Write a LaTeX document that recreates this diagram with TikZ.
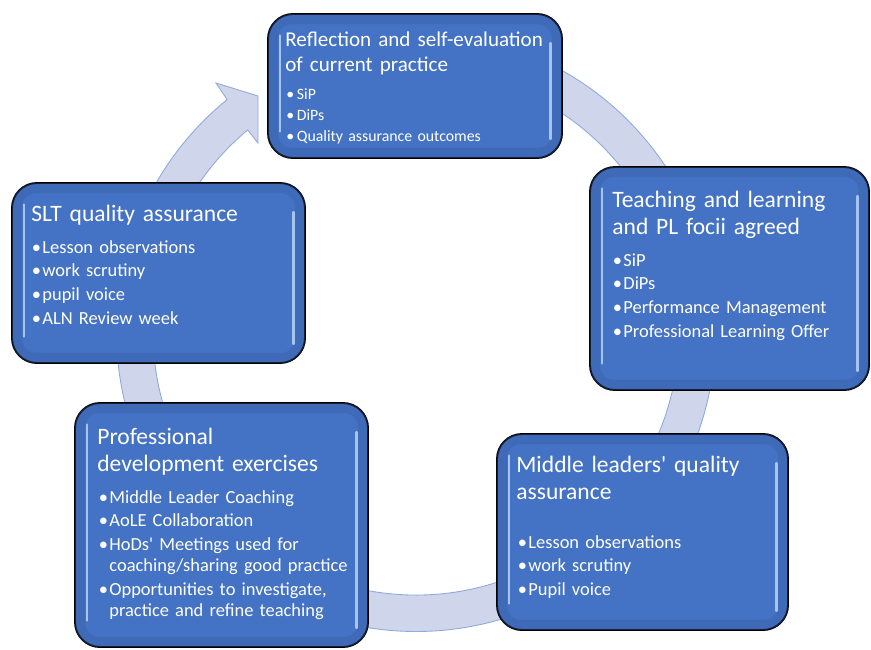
\documentclass[tikz,border=0pt]{standalone}
\usepackage{fontspec}
\setmainfont{Carlito}
\usepackage{tikz}
\usetikzlibrary{positioning}

\definecolor{boxblue}{RGB}{68,114,196}
\definecolor{ringfill}{RGB}{207,213,234}
\definecolor{ringedge}{RGB}{143,170,220}
\definecolor{glintblue}{RGB}{178,206,245}

% bullet items with a hanging indent
\newlength{\bulletindent}
\setlength{\bulletindent}{6pt}
\newcommand{\itm}[1]{\hangindent=\bulletindent\hangafter=1\makebox[\bulletindent][l]{\textbullet}#1\par}

% light edges on the left and right of a box
\newcommand{\boxgloss}[1]{%
  \draw[rim] ([shift={(0.12,-0.12)}]#1.north west) rectangle ([shift={(-0.12,0.12)}]#1.south east);
  \draw[shine] ([shift={(0.26,-0.45)}]#1.north west) -- ([shift={(0.26,0.55)}]#1.south west);
  \draw[shine] ([shift={(-0.25,-0.6)}]#1.north east) -- ([shift={(-0.25,0.4)}]#1.south east);}

\tikzset{
  ring/.style={fill=ringfill, draw=ringedge, line width=0.5pt},
  stage/.style={draw=black, line width=1.1pt, fill=boxblue, rounded corners=0.5cm, inner sep=0pt},
  rim/.style={draw=boxblue!82!black, line width=0.2cm, opacity=0.35, rounded corners=0.38cm},
  shine/.style={draw=glintblue, line width=1.3pt, line cap=round, opacity=0.9},
  headline/.style={text=white, anchor=base west, inner sep=0pt, text width=6cm, align=left, font=\fontsize{13.4}{15.4}\selectfont},
  points/.style={text=white, anchor=base west, inner sep=0pt, text width=6cm, align=left, font=\fontsize{10.5}{11.95}\selectfont, execute at begin node={\setlength{\parskip}{#1}}},
  points/.default=1.7pt,
}

\begin{document}
\begin{tikzpicture}
		\useasboundingbox (0,0) rectangle (17.42,12.98);
		
		% circular arrow behind the boxes
		\coordinate (hub) at (8.32,6.34);
		\filldraw[ring] ([shift={(hub)}]129.1:5.99) arc[start angle=129.1, end angle=474.5, radius=5.99]
		-- ([shift={(hub)}]474.5:5.26) arc[start angle=474.5, end angle=129.8, radius=5.26]
		-- (5.16,10.12) -- (5.16,11.06) -- (4.32,11.32) -- cycle;
		
		\node[stage, minimum width=5.88cm, minimum height=2.88cm] (refl) at (8.30,11.26) {};
		\node[stage, minimum width=5.58cm, minimum height=4.46cm] (focus) at (14.59,7.41) {};
		\node[stage, minimum width=5.82cm, minimum height=3.92cm] (mlqa) at (12.85,2.34) {};
		\node[stage, minimum width=5.86cm, minimum height=4.88cm] (prof) at (4.43,2.48) {};
		\node[stage, minimum width=5.86cm, minimum height=3.60cm] (slt) at (3.17,7.52) {};
		\boxgloss{refl}
		\boxgloss{focus}
		\boxgloss{mlqa}
		\boxgloss{prof}
		\boxgloss{slt}
		
		\node[headline, font=\fontsize{12.0}{14.2}\selectfont] (refl-t) at (5.70,12.04) {Reflection and self-evaluation\\of current practice};
		\node[points=0pt, font=\fontsize{9}{11.95}\selectfont] (refl-p) at (5.72,10.98) {\itm{SiP}\itm{DiPs}\itm{Quality assurance outcomes}};
		
		\node[headline] (focus-t) at (12.24,8.84) {Teaching and learning\\and PL focii agreed};
		\node[points] (focus-p) at (12.25,7.66) {\itm{SiP}\itm{DiPs}\itm{Performance Management}\itm{Professional Learning Offer}};
		
		\node[headline] (mlqa-t) at (10.32,3.54) {Middle leaders\textquotesingle{} quality\\assurance};
		\node[points] (mlqa-p) at (10.35,2.02) {\itm{Lesson observations}\itm{work scrutiny}\itm{Pupil voice}};
		
		\node[headline] (prof-t) at (1.94,4.10) {Professional\\development exercises};
		\node[points] (prof-p) at (1.97,2.92) {\itm{Middle Leader Coaching}\itm{AoLE Collaboration}\itm{HoDs\textquotesingle{} Meetings used for\newline coaching/sharing good practice}\itm{Opportunities to investigate,\newline practice and refine teaching}};
		
		\node[headline] (slt-t) at (0.62,8.56) {SLT quality assurance};
		\node[points] (slt-p) at (0.63,7.92) {\itm{Lesson observations}\itm{work scrutiny}\itm{pupil voice}\itm{ALN Review week}};
	\end{tikzpicture}
\end{document}
